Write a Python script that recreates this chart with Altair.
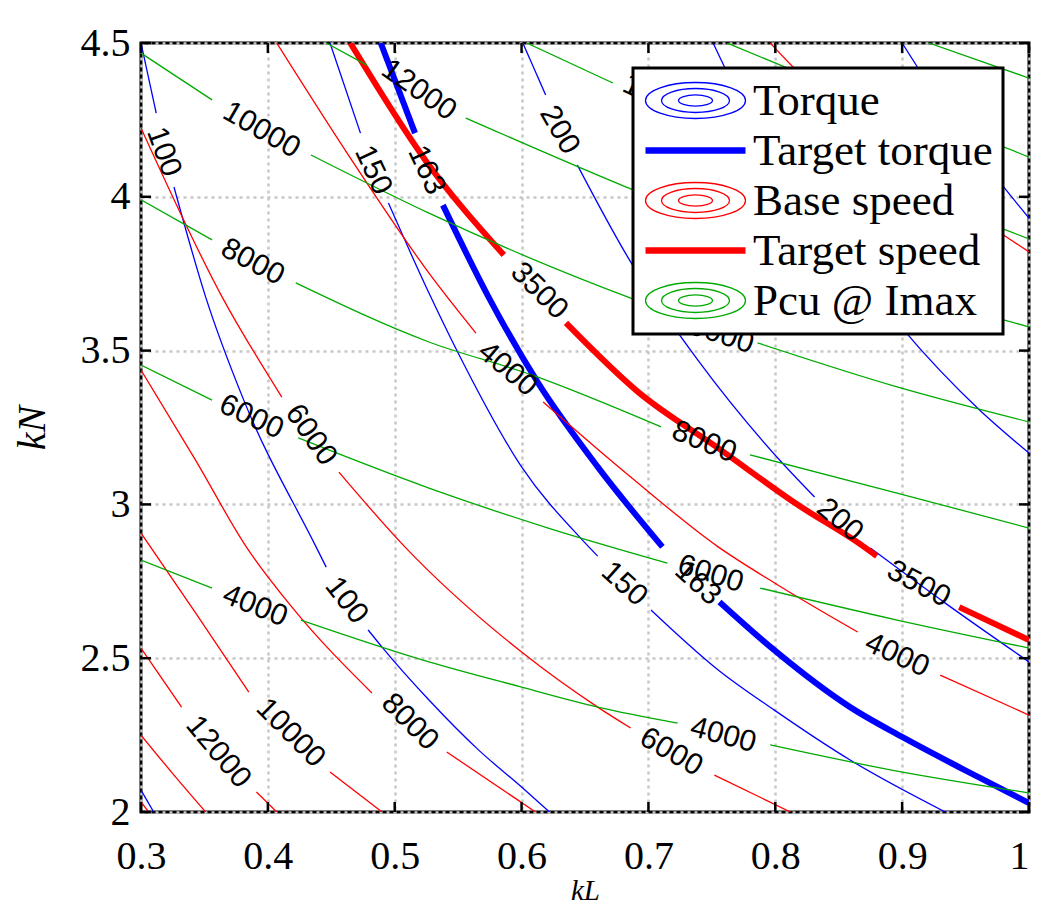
import altair as alt
import pandas as pd

# ---------------- data ----------------
X_TICKS = [0.3, 0.4, 0.5, 0.6, 0.7, 0.8, 0.9, 1.0]
Y_TICKS = [2.0, 2.5, 3.0, 3.5, 4.0, 4.5]

FAMILIES = ["Torque", "Target torque", "Base speed", "Target speed", "Pcu @ Imax"]
FAMILY_COLORS = ["#0000ff", "#0000ff", "#ff0000", "#ff0000", "#00aa00"]

# each contour: level -> list of visible segments [(kL, kN), ...]
torque = {
    "50": [[(0.300, 2.071), (0.310, 2.000)]],
    "100": [
        [(0.300, 4.500), (0.312, 4.272)],
        [(0.326, 4.032), (0.351, 3.674), (0.381, 3.339), (0.438, 2.862), (0.446, 2.796)],
        [(0.479, 2.592), (0.490, 2.536), (0.527, 2.364), (0.566, 2.202), (0.600, 2.081), (0.622, 2.000)],
    ],
    "150": [
        [(0.449, 4.500), (0.473, 4.207)],
        [(0.495, 3.980), (0.527, 3.687), (0.550, 3.492), (0.600, 3.122), (0.648, 2.884), (0.660, 2.832)],
        [(0.702, 2.657), (0.755, 2.462), (0.799, 2.332), (0.859, 2.169), (0.934, 2.000)],
    ],
    "200": [
        [(0.601, 4.500), (0.619, 4.331)],
        [(0.644, 4.103), (0.685, 3.795), (0.739, 3.469), (0.807, 3.128), (0.831, 3.024)],
        [(0.875, 2.858), (0.934, 2.679), (1.000, 2.488)],
    ],
    "250": [[(0.751, 4.500), (0.760, 4.422), (0.825, 3.990), (0.900, 3.573), (0.961, 3.307), (1.000, 3.167)]],
    "300": [[(0.900, 4.500), (0.912, 4.422), (0.980, 4.032), (1.000, 3.931)]],
}

target_torque = {
    "163": [
        [(0.489, 4.500), (0.516, 4.207)],
        [(0.538, 3.973), (0.574, 3.674), (0.613, 3.395), (0.660, 3.122), (0.711, 2.862)],
        [(0.756, 2.683), (0.799, 2.527), (0.859, 2.341), (0.900, 2.244), (0.949, 2.137), (1.000, 2.029)],
    ],
}

base_speed = {
    "3000": [[(0.796, 4.500), (0.814, 4.422), (0.896, 4.153), (0.980, 3.876), (1.000, 3.821)]],
    "4000": [
        [(0.407, 4.500), (0.466, 4.120), (0.527, 3.752), (0.564, 3.557)],
        [(0.617, 3.333), (0.686, 3.089), (0.755, 2.862), (0.802, 2.738), (0.865, 2.585)],
        [(0.930, 2.445), (1.000, 2.315)],
    ],
    "6000": [
        [(0.300, 4.224), (0.364, 3.674), (0.411, 3.349)],
        [(0.456, 3.105), (0.508, 2.862), (0.600, 2.520), (0.660, 2.341), (0.686, 2.273)],
        [(0.752, 2.120), (0.812, 2.000)],
    ],
    "8000": [
        [(0.300, 3.437), (0.343, 3.144), (0.383, 2.862), (0.419, 2.666), (0.482, 2.387)],
        [(0.541, 2.195), (0.611, 2.000)],
    ],
    "10000": [
        [(0.300, 2.907), (0.343, 2.647), (0.385, 2.390)],
        [(0.449, 2.130), (0.490, 2.000)],
    ],
    "12000": [
        [(0.300, 2.533), (0.332, 2.341)],
        [(0.391, 2.065), (0.407, 2.000)],
    ],
    "14000": [[(0.300, 2.250), (0.326, 2.120), (0.351, 2.000)]],
    "16000": [[(0.300, 2.033), (0.306, 2.000)]],
}

target_speed = {
    "3500": [
        [(0.465, 4.500), (0.524, 4.120), (0.586, 3.811)],
        [(0.635, 3.590), (0.692, 3.365), (0.755, 3.183), (0.818, 2.998), (0.870, 2.862), (0.880, 2.832)],
        [(0.945, 2.666), (1.000, 2.559)],
    ],
}

pcu = {
    "4000": [
        [(0.300, 2.819), (0.356, 2.728)],
        [(0.426, 2.624), (0.527, 2.488), (0.600, 2.406), (0.660, 2.341), (0.723, 2.289)],
        [(0.796, 2.218), (0.896, 2.133), (1.000, 2.062)],
    ],
    "6000": [
        [(0.300, 3.453), (0.356, 3.339)],
        [(0.424, 3.216), (0.527, 3.053), (0.621, 2.923), (0.715, 2.809)],
        [(0.788, 2.728), (0.896, 2.624), (1.000, 2.533)],
    ],
    "8000": [
        [(0.300, 3.990), (0.356, 3.860)],
        [(0.422, 3.720), (0.527, 3.528), (0.608, 3.421), (0.710, 3.252)],
        [(0.780, 3.161), (0.896, 3.037), (1.000, 2.923)],
    ],
    "10000": [
        [(0.300, 4.467), (0.356, 4.315)],
        [(0.434, 4.136), (0.527, 3.947), (0.684, 3.674), (0.723, 3.616)],
        [(0.786, 3.525), (0.896, 3.382), (1.000, 3.268)],
    ],
    "12000": [
        [(0.446, 4.500), (0.478, 4.428)],
        [(0.556, 4.256), (0.684, 4.029), (0.833, 3.788), (0.980, 3.600), (1.000, 3.577)],
    ],
    "14000": [
        [(0.604, 4.500), (0.672, 4.370)],
        [(0.731, 4.266), (0.857, 4.071), (0.980, 3.895), (1.000, 3.863)],
    ],
    "16000": [[(0.762, 4.500), (0.804, 4.428), (0.896, 4.282), (0.980, 4.162), (1.000, 4.129)]],
    "18000": [[(0.921, 4.500), (1.000, 4.386)]],
}

# contour labels
label_text = ["100", "100", "150", "150", "200", "200", "163", "163",
              "4000", "4000", "3500", "3500", "6000", "6000", "8000", "10000", "12000",
              "12000", "10000", "8000", "6000", "4000", "4000", "6000", "8000", "10000", "14000"]
label_kL = [0.318, 0.462, 0.483, 0.681, 0.630, 0.851, 0.525, 0.739,
            0.589, 0.896, 0.614, 0.913, 0.434, 0.718, 0.512, 0.418, 0.361,
            0.519, 0.395, 0.388, 0.387, 0.390, 0.759, 0.749, 0.744, 0.751, 0.711]
label_kN = [4.146, 2.688, 4.087, 2.741, 4.217, 2.949, 4.087, 2.744,
            3.440, 2.510, 3.694, 2.741, 3.226, 2.195, 2.293, 2.257, 2.195,
            4.347, 4.217, 3.788, 3.284, 2.670, 2.250, 2.774, 3.203, 3.560, 4.315]
label_angle = [70, 52, 65, 42, 60, 40, 65, 42,
               40, 25, 45, 28, 55, 30, 45, 45, 50,
               35, 30, 28, 25, 22, 15, 17, 22, 18, 25]

# ---------------- tables ----------------
rows = []
for family, levels in zip(FAMILIES, [torque, target_torque, base_speed, target_speed, pcu]):
    for level, segments in levels.items():
        for s, seg in enumerate(segments):
            for i, (kl, kn) in enumerate(seg):
                rows.append({"family": family, "seg": f"{family}|{level}|{s}", "i": i, "kL": kl, "kN": kn})
lines_df = pd.DataFrame(rows)
labels_df = pd.DataFrame({"text": label_text, "kL": label_kL, "kN": label_kN, "angle": label_angle})
legend_df = pd.DataFrame({"family": FAMILIES})
xt_df = pd.DataFrame({"kL": X_TICKS})
yt_df = pd.DataFrame({"kN": Y_TICKS})

# ---------------- styling ----------------
W, H = 888, 769
SERIF = "Liberation Serif"
SANS = "Liberation Sans"

xs = alt.Scale(domain=[0.3, 1.0], nice=False, zero=False)
ys = alt.Scale(domain=[2.0, 4.5], nice=False, zero=False)
color_scale = alt.Scale(domain=FAMILIES, range=FAMILY_COLORS)

# legend glyphs (unit = 20 px with symbolSize 1600)
ELLIPSES = ("M -2.5 0 A 2.5 0.9 0 1 1 2.5 0 A 2.5 0.9 0 1 1 -2.5 0 "
            "M -1.7 0 A 1.7 0.6 0 1 1 1.7 0 A 1.7 0.6 0 1 1 -1.7 0 "
            "M -0.85 0 A 0.85 0.28 0 1 1 0.85 0 A 0.85 0.28 0 1 1 -0.85 0")
BAR = ("M -2.5 -0.125 L 2.5 -0.125 M -2.5 -0.0625 L 2.5 -0.0625 M -2.5 0 L 2.5 0 "
       "M -2.5 0.0625 L 2.5 0.0625 M -2.5 0.125 L 2.5 0.125")
shape_scale = alt.Scale(domain=FAMILIES, range=[ELLIPSES, BAR, ELLIPSES, BAR, ELLIPSES])

leg = alt.Legend(
    title=None, orient="none", legendX=492, legendY=25, direction="vertical",
    symbolSize=1600, symbolStrokeWidth=1.3, symbolOpacity=1, symbolOffset=30,
    labelFont=SERIF, labelFontSize=45, labelColor="black", labelOffset=35, labelLimit=0,
    padding=10, rowPadding=4, fillColor="white", strokeColor="black", cornerRadius=0,
)

x_axis = alt.Axis(
    values=X_TICKS, format="~g", title="kL", grid=True, gridColor="#c8c8c8",
    gridDash=[3, 4], gridWidth=2.5, domain=False, ticks=False,
    labelFont=SERIF, labelFontSize=40, labelColor="black", labelPadding=24,
    labelFlush=False, labelOverlap=False,
    labelAlign={"condition": {"test": "datum.value >= 0.999", "value": "right"}, "value": "center"},
    titleFont=SERIF, titleFontSize=29, titleFontStyle="italic", titleFontWeight="normal",
    titleColor="black", titlePadding=0,
)
y_axis = alt.Axis(
    values=Y_TICKS, format="~g", title="kN", grid=True, gridColor="#c8c8c8",
    gridDash=[3, 4], gridWidth=2.5, domain=False, ticks=False,
    labelFont=SERIF, labelFontSize=40, labelColor="black", labelPadding=11,
    labelFlush=False, labelOverlap=False,
    titleFont=SERIF, titleFontSize=40, titleFontStyle="italic", titleFontWeight="normal",
    titleColor="black", titlePadding=28,
)

X_ENC = alt.X("kL:Q", scale=xs, axis=x_axis)
Y_ENC = alt.Y("kN:Q", scale=ys, axis=y_axis)

# legend carrier (invisible points)
legend_layer = alt.Chart(legend_df).mark_point(opacity=0, filled=False, size=1600).encode(
    color=alt.Color("family:N", scale=color_scale, legend=leg),
    shape=alt.Shape("family:N", scale=shape_scale, legend=leg),
)

lines = alt.Chart(lines_df).mark_line(interpolate="monotone", clip=True).encode(
    x=X_ENC,
    y=Y_ENC,
    color=alt.Color("family:N", scale=color_scale, legend=None),
    strokeWidth=alt.condition(
        alt.FieldOneOfPredicate(field="family", oneOf=["Target torque", "Target speed"]),
        alt.value(6), alt.value(1.3)),
    detail="seg:N",
    order="i:Q",
)

texts = alt.Chart(labels_df).mark_text(
    font=SANS, fontSize=30, color="black", align="center", baseline="middle"
).encode(
    x=X_ENC,
    y=Y_ENC,
    text="text:N",
    angle=alt.Angle("angle:Q", scale=None),
)

tick_style = dict(color="black", strokeWidth=2.5)
t_top = alt.Chart(xt_df).mark_rule(**tick_style).encode(x=X_ENC, y=alt.value(0), y2=alt.value(10))
t_bot = alt.Chart(xt_df).mark_rule(**tick_style).encode(x=X_ENC, y=alt.value(H), y2=alt.value(H - 10))
t_left = alt.Chart(yt_df).mark_rule(**tick_style).encode(y=Y_ENC, x=alt.value(0), x2=alt.value(10))
t_right = alt.Chart(yt_df).mark_rule(**tick_style).encode(y=Y_ENC, x=alt.value(W - 10), x2=alt.value(W))

chart = alt.layer(legend_layer, lines, texts, t_top, t_bot, t_left, t_right).properties(
    width=W, height=H,
    autosize=alt.AutoSizeParams(type="none"),
    padding={"left": 133, "top": 35, "right": 2, "bottom": 95},
).configure_view(stroke="black", strokeWidth=3)

try:
    _c = chart.configure_legend(strokeWidth=3)
    _c.to_dict()
    chart = _c
except Exception:
    pass

chart.save("out.html", embed_options={"renderer": "svg", "actions": False})
